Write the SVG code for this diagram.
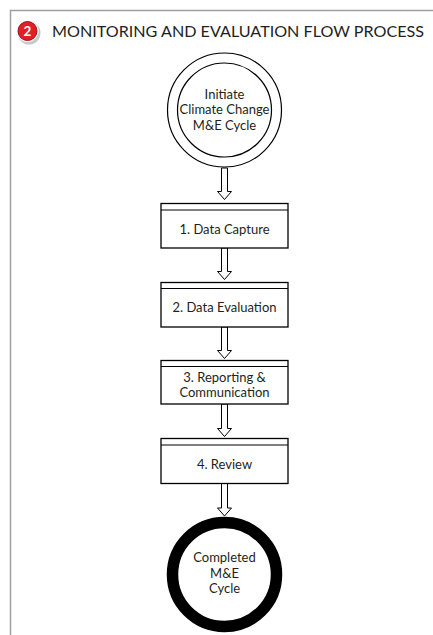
<svg xmlns="http://www.w3.org/2000/svg" width="433" height="635" viewBox="0 0 433 635">
<style>
  .t { font-family: Lato, "Open Sans", "Liberation Sans", sans-serif; fill: #231f20; text-anchor: middle; }
  .lbl { font-size: 13px; }
  .title { font-family: Lato, "Open Sans", "Liberation Sans", sans-serif; font-size: 16px; fill: #231f20; }
  .box { fill: #ffffff; stroke: #000000; stroke-width: 1.3; }
  .band { stroke: #000000; stroke-width: 1; }
  .arrow { fill: #ffffff; stroke: #000000; stroke-width: 1; stroke-linejoin: miter; }
</style>
<rect x="0" y="0" width="433" height="635" fill="#ffffff"/>
<rect x="10.5" y="10.5" width="440" height="640" fill="none" stroke="#a0a0a0" stroke-width="1.5"/>

<g id="title">
  <circle cx="29" cy="33" r="11.5" fill="#c8c8c8"/>
  <circle cx="27.5" cy="31" r="11" fill="#ffffff"/>
  <circle cx="27.5" cy="31" r="9.5" fill="#e21f26" stroke="#9c1016" stroke-width="1"/>
  <text x="27.5" y="35.8" font-family="Lato, 'Open Sans', 'Liberation Sans', sans-serif" font-size="13.5" font-weight="bold" fill="#ffffff" text-anchor="middle">2</text>
  <text class="title" x="52" y="36.7" textLength="372" lengthAdjust="spacingAndGlyphs">MONITORING AND EVALUATION FLOW PROCESS</text>
</g>

<g id="connectors">
  <polygon class="arrow" points="221.5,168 227.5,168 227.5,191.5 231.5,191.5 224.5,199.5 217.5,191.5 221.5,191.5"/>
  <polygon class="arrow" points="221.5,248 227.5,248 227.5,271.5 231.5,271.5 224.5,279.5 217.5,271.5 221.5,271.5"/>
  <polygon class="arrow" points="221.5,327 227.5,327 227.5,350.5 231.5,350.5 224.5,358.5 217.5,350.5 221.5,350.5"/>
  <polygon class="arrow" points="221.5,404 227.5,404 227.5,428.5 231.5,428.5 224.5,436.5 217.5,428.5 221.5,428.5"/>
  <polygon class="arrow" points="221.5,483.5 227.5,483.5 227.5,508 231.5,508 224.5,516 217.5,508 221.5,508"/>
</g>

<g id="start">
  <circle cx="224.5" cy="110" r="57" fill="#ffffff" stroke="#000000" stroke-width="1.2"/>
  <circle cx="224.5" cy="110" r="47" fill="#ffffff" stroke="#000000" stroke-width="1.2"/>
  <text class="t lbl" x="224.5" y="98.5">Initiate</text>
  <text class="t lbl" x="224.5" y="114">Climate Change</text>
  <text class="t lbl" x="224.5" y="129.5">M&amp;E Cycle</text>
</g>

<g id="step1">
  <rect class="box" x="161" y="203.5" width="127" height="44.5"/>
  <line class="band" x1="161" y1="210" x2="288" y2="210"/>
  <text class="t lbl" x="224.5" y="233.5">1. Data Capture</text>
</g>

<g id="step2">
  <rect class="box" x="161" y="282.5" width="127" height="44.5"/>
  <line class="band" x1="161" y1="288.5" x2="288" y2="288.5"/>
  <text class="t lbl" x="224.5" y="312">2. Data Evaluation</text>
</g>

<g id="step3">
  <rect class="box" x="161" y="360.5" width="127" height="43.5"/>
  <line class="band" x1="161" y1="366.5" x2="288" y2="366.5"/>
  <text class="t lbl" x="224.5" y="381.7">3. Reporting &amp;</text>
  <text class="t lbl" x="224.5" y="396.7">Communication</text>
</g>

<g id="step4">
  <rect class="box" x="161" y="438.5" width="127" height="45"/>
  <line class="band" x1="161" y1="445" x2="288" y2="445"/>
  <text class="t lbl" x="224.5" y="468.5">4. Review</text>
</g>

<g id="end">
  <circle cx="224.5" cy="574.5" r="52" fill="#ffffff" stroke="#000000" stroke-width="11.5"/>
  <text class="t lbl" x="224.5" y="562.3">Completed</text>
  <text class="t lbl" x="224.5" y="578">M&amp;E</text>
  <text class="t lbl" x="224.5" y="593.3">Cycle</text>
</g>
</svg>
